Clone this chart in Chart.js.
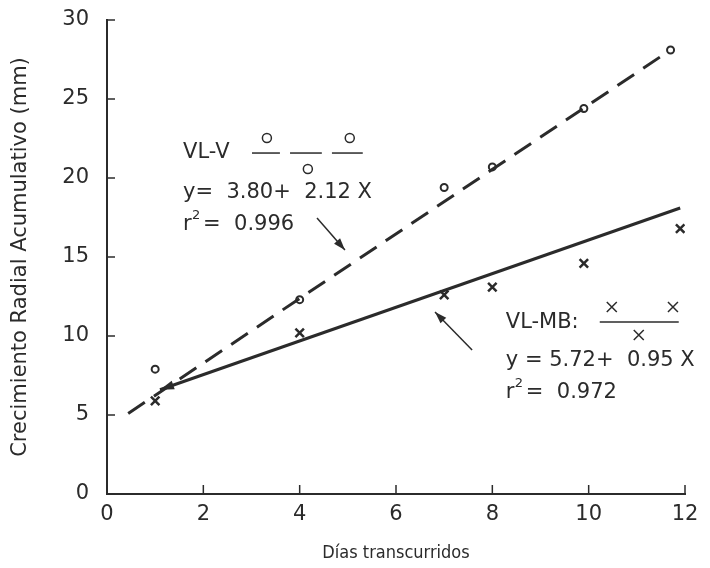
<!DOCTYPE html>
<html lang="es">
<head>
  <meta charset="UTF-8">
  <title>Crecimiento radial acumulativo</title>
  <script src="https://cdn.jsdelivr.net/npm/chart.js"></script>
  <style>
    body { margin: 0; background: #fff; }
    #grafico { display: block; }
  </style>
</head>
<body>
  <canvas id="grafico" width="710" height="568"></canvas>

  <script>
    // Datos
    const diasV = [1, 4, 7, 8, 9.9, 11.7];
    const crecV = [7.9, 12.3, 19.4, 20.7, 24.4, 28.1];
    const diasMB = [1, 4, 7, 8, 9.9, 11.9];
    const crecMB = [5.9, 10.2, 12.6, 13.1, 14.6, 16.8];

    // extremos de las rectas ajustadas, tal como estan dibujadas
    const rectaVX = [0.44, 11.6];
    const rectaVY = [5.1, 27.9];
    const rectaMBX = [1.1, 11.9];
    const rectaMBY = [6.6, 18.1];

    const ticksX = [0, 2, 4, 6, 8, 10, 12];
    const ticksY = [0, 5, 10, 15, 20, 25, 30];

    const tinta = '#2b2b2b';
    const fuente = "'DejaVu Sans', 'Liberation Sans', sans-serif";

    const pares = (xs, ys) => xs.map((x, i) => ({ x: x, y: ys[i] }));

    // marcas de escala hacia dentro + anotaciones
    const extras = {
      id: 'extras',
      afterDraw(chart) {
        const c = chart.ctx;
        const sx = chart.scales.x, sy = chart.scales.y;
        const X = v => sx.getPixelForValue(v);
        const Y = v => sy.getPixelForValue(v);
        const a = chart.chartArea;

        c.save();
        c.strokeStyle = tinta;
        c.fillStyle = tinta;
        c.lineWidth = 1.5;
        ticksY.forEach(t => {
          c.beginPath(); c.moveTo(a.left, Y(t)); c.lineTo(a.left + 8, Y(t)); c.stroke();
        });
        ticksX.forEach(t => {
          c.beginPath(); c.moveTo(X(t), a.bottom); c.lineTo(X(t), a.bottom - 9); c.stroke();
        });

        // punta de flecha al inicio de la recta VL-MB
        const flecha = (x0, y0, x1, y1, len, w) => {
          const ang = Math.atan2(y1 - y0, x1 - x0);
          c.beginPath();
          c.moveTo(x1, y1);
          c.lineTo(x1 - len * Math.cos(ang) + w * Math.sin(ang), y1 - len * Math.sin(ang) - w * Math.cos(ang));
          c.lineTo(x1 - len * Math.cos(ang) - w * Math.sin(ang), y1 - len * Math.sin(ang) + w * Math.cos(ang));
          c.closePath();
          c.fill();
        };
        flecha(X(rectaMBX[1]), Y(rectaMBY[1]), X(rectaMBX[0]), Y(rectaMBY[0]), 14, 4.5);

        // flechas de las etiquetas
        c.lineWidth = 1.5;
        const linea = (x0, y0, x1, y1) => {
          c.beginPath(); c.moveTo(X(x0), Y(y0)); c.lineTo(X(x1), Y(y1)); c.stroke();
          flecha(X(x0), Y(y0), X(x1), Y(y1), 12, 4);
        };
        linea(4.36, 17.47, 4.94, 15.44);
        linea(7.58, 9.11, 6.81, 11.52);

        // textos
        c.font = '21px ' + fuente;
        c.textAlign = 'left';
        c.textBaseline = 'alphabetic';
        c.fillText('VL-V', X(1.58), Y(21.27));
        c.fillText('y=  3.80+  2.12 X', X(1.58), Y(18.73));
        c.fillText('r', X(1.58), Y(16.71));
        c.fillText('=  0.996', X(1.58) + 20, Y(16.71));
        c.fillText('VL-MB:', X(8.28), Y(10.51));
        c.fillText('y = 5.72+  0.95 X', X(8.28), Y(8.10));
        c.fillText('r', X(8.28), Y(6.08));
        c.fillText('=  0.972', X(8.28) + 20, Y(6.08));
        c.font = '13px ' + fuente;
        c.fillText('2', X(1.58) + 9, Y(16.71) - 11);
        c.fillText('2', X(8.28) + 9, Y(6.08) - 11);

        // simbolo de leyenda VL-V
        c.lineWidth = 1.5;
        [[3.01, 3.59], [3.80, 4.46], [4.67, 5.31]].forEach(s => {
          c.beginPath(); c.moveTo(X(s[0]), Y(21.58)); c.lineTo(X(s[1]), Y(21.58)); c.stroke();
        });
        [[3.32, 22.53], [5.04, 22.53], [4.17, 20.57]].forEach(p => {
          c.beginPath(); c.ellipse(X(p[0]), Y(p[1]), 4.5, 4.5, 0, 0, 2 * Math.PI); c.stroke();
        });

        // simbolo de leyenda VL-MB
        c.beginPath(); c.moveTo(X(10.23), Y(10.89)); c.lineTo(X(11.87), Y(10.89)); c.stroke();
        [[10.48, 11.84], [11.75, 11.84], [11.04, 10.06]].forEach(p => {
          const px = X(p[0]), py = Y(p[1]);
          c.beginPath();
          c.moveTo(px - 5, py - 5); c.lineTo(px + 5, py + 5);
          c.moveTo(px + 5, py - 5); c.lineTo(px - 5, py + 5);
          c.stroke();
        });
        c.restore();
      }
    };

    new Chart(document.getElementById('grafico'), {
      type: 'scatter',
      data: {
        datasets: [
          {
            label: 'VL-V ajuste',
            data: pares(rectaVX, rectaVY),
            showLine: true,
            borderColor: tinta,
            borderWidth: 3,
            borderDash: [20, 11],
            pointRadius: 0
          },
          {
            label: 'VL-MB ajuste',
            data: pares(rectaMBX, rectaMBY),
            showLine: true,
            borderColor: tinta,
            borderWidth: 3,
            pointRadius: 0
          },
          {
            label: 'VL-V',
            data: pares(diasV, crecV),
            pointStyle: 'circle',
            pointRadius: 3.5,
            borderWidth: 2,
            borderColor: tinta,
            backgroundColor: '#fff'
          },
          {
            label: 'VL-MB',
            data: pares(diasMB, crecMB),
            pointStyle: 'crossRot',
            pointRadius: 6,
            borderWidth: 2.5,
            borderColor: tinta
          }
        ]
      },
      options: {
        responsive: false,
        animation: false,
        layout: { padding: { top: 20, right: 25, left: 0, bottom: 0 } },
        plugins: {
          legend: { display: false },
          tooltip: { enabled: false }
        },
        scales: {
          x: {
            type: 'linear',
            min: 0,
            max: 12,
            afterBuildTicks: s => { s.ticks = ticksX.map(v => ({ value: v })); },
            afterFit: s => { s.height = 74; },
            grid: { display: false, drawTicks: false },
            border: { display: true, color: tinta, width: 2 },
            ticks: { color: tinta, padding: 8, font: { family: fuente, size: 21 } },
            title: {
              display: true,
              text: 'Días transcurridos',
              color: tinta,
              padding: { top: 10 },
              font: { family: "'DejaVu Sans Condensed', 'Liberation Sans', sans-serif", size: 18 }
            }
          },
          y: {
            type: 'linear',
            min: 0,
            max: 30,
            afterBuildTicks: s => { s.ticks = ticksY.map(v => ({ value: v })); },
            afterFit: s => { s.width = 107; s.paddingTop = 0; s.paddingBottom = 0; },
            grid: { display: false, drawTicks: false },
            border: { display: true, color: tinta, width: 2 },
            ticks: { color: tinta, padding: 18, font: { family: fuente, size: 21 } },
            title: {
              display: true,
              text: 'Crecimiento Radial Acumulativo (mm)',
              color: tinta,
              padding: { top: 8, bottom: 0 },
              font: { family: fuente, size: 21 }
            }
          }
        }
      },
      plugins: [extras]
    });
  </script>
</body>
</html>
